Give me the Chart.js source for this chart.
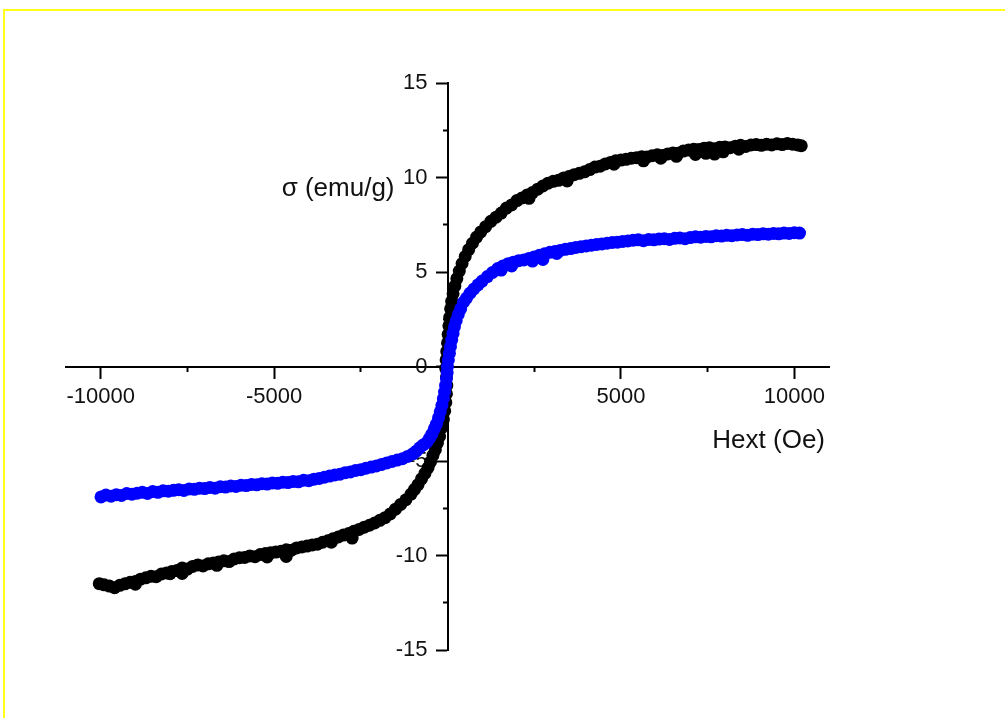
<!DOCTYPE html>
<html>
<head>
<meta charset="utf-8">
<title>Hysteresis</title>
<script src="https://cdn.jsdelivr.net/npm/chart.js@4.4.1/dist/chart.umd.min.js"></script>
<style>
  body { margin: 0; background: #fff; }
  #wrap { position: relative; width: 1005px; height: 718px; }
  #frame {
    position: absolute; left: 3px; top: 9px; right: 0; bottom: 0;
    border-top: 2px solid #ffff1a; border-left: 2px solid #ffff1a;
    pointer-events: none;
  }
</style>
</head>
<body>
<div id="wrap">
  <canvas id="loop" width="1005" height="718"></canvas>
  <div id="frame"></div>
</div>
<script>
// ---------- DATA ----------
// black sample: field (Oe) and magnetisation (emu/g)
const blackH = [
  -10040, -9900, -9750, -9600, -9450, -9300, -9150, -9000, -8850, -8700,
  -8550, -8400, -8250, -8100, -7950, -7800, -7650, -7500, -7350, -7200,
  -7050, -6900, -6750, -6600, -6450, -6300, -6150, -6000, -5850, -5700,
  -5550, -5400, -5250, -5100, -4950, -4800, -4650, -4500, -4350, -4200,
  -4050, -3900, -3750, -3600, -3450, -3300, -3150, -3000, -2850, -2700,
  -2550, -2400, -2250, -2100, -1950, -1800, -1650, -1500, -1350, -1200,
  -1050, -950, -850, -750, -650, -560, -490, -420, -350, -290,
  -230, -170, -120, -80, -50, -30, -20, -30, -50, -40,
  -20, 0, 20, 40, 65, 90, 120, 160, 210, 270,
  340, 420, 510, 610, 720, 840, 960, 1100, 1250, 1400,
  1550, 1700, 1850, 2000, 2150, 2300, 2450, 2600, 2750, 2900,
  3050, 3200, 3350, 3500, 3650, 3800, 3950, 4100, 4250, 4400,
  4550, 4700, 4850, 5000, 5150, 5300, 5450, 5600, 5750, 5900,
  6050, 6200, 6350, 6500, 6650, 6800, 6950, 7100, 7250, 7400,
  7550, 7700, 7850, 8000, 8150, 8300, 8450, 8600, 8750, 8900,
  9050, 9200, 9350, 9500, 9650, 9800, 9950, 10100, 10200,
  7150, 7450, 7700, 7950, 6150, 5650, 3450, 2350, -2750, -4650,
  -3350, -6650, -7650, -9000, -8000, -5200, 6600, 8400, 4800
];
const blackM = [
  -11.49, -11.55, -11.62, -11.70, -11.58, -11.50, -11.42, -11.38, -11.25, -11.18,
  -11.10, -11.12, -10.98, -10.92, -10.85, -10.80, -10.66, -10.72, -10.58, -10.50,
  -10.55, -10.44, -10.40, -10.35, -10.28, -10.32, -10.18, -10.12, -10.10, -10.02,
  -10.06, -9.95, -9.90, -9.86, -9.82, -9.78, -9.70, -9.72, -9.60, -9.55,
  -9.50, -9.44, -9.40, -9.30, -9.22, -9.12, -9.02, -8.92, -8.84, -8.72,
  -8.62, -8.50, -8.40, -8.28, -8.14, -8.00, -7.80, -7.55, -7.30, -7.05,
  -6.75, -6.50, -6.25, -5.95, -5.65, -5.35, -5.05, -4.70, -4.40, -4.05,
  -3.70, -3.25, -2.80, -2.35, -1.90, -1.45, -1.00, -0.55, -0.10, 0.35,
  0.80, 1.25, 1.70, 2.15, 2.60, 3.05, 3.45, 3.85, 4.25, 4.65,
  5.05, 5.45, 5.82, 6.18, 6.52, 6.85, 7.12, 7.40, 7.68, 7.90,
  8.12, 8.38, 8.55, 8.78, 8.92, 9.08, 9.20, 9.38, 9.55, 9.70,
  9.80, 9.85, 9.98, 10.05, 10.15, 10.22, 10.30, 10.42, 10.55, 10.60,
  10.72, 10.80, 10.88, 10.92, 10.96, 11.02, 11.05, 11.10, 11.08, 11.15,
  11.20, 11.16, 11.25, 11.30, 11.28, 11.40, 11.45, 11.50, 11.48, 11.55,
  11.58, 11.52, 11.60, 11.62, 11.58, 11.66, 11.70, 11.64, 11.72, 11.74,
  11.70, 11.76, 11.72, 11.78, 11.74, 11.80, 11.76, 11.72, 11.68,
  11.22, 11.28, 11.24, 11.36, 11.02, 10.88, 9.82, 8.90, -9.08, -10.05,
  -9.30, -10.52, -10.95, -11.52, -10.96, -10.08, 11.12, 11.50, 10.70
];

// blue sample
const blueH = [
  -9990, -9850, -9700, -9550, -9400, -9250, -9100, -8950, -8800, -8650,
  -8500, -8350, -8200, -8050, -7900, -7750, -7600, -7450, -7300, -7150,
  -7000, -6850, -6700, -6550, -6400, -6250, -6100, -5950, -5800, -5650,
  -5500, -5350, -5200, -5050, -4900, -4750, -4600, -4450, -4300, -4150,
  -4000, -3850, -3700, -3550, -3400, -3250, -3100, -2950, -2800, -2650,
  -2500, -2350, -2200, -2050, -1900, -1750, -1600, -1450, -1300, -1150,
  -1000, -900, -800, -700, -600, -520, -450, -380, -320, -260,
  -210, -160, -120, -85, -55, -30, -10, 0, 25, 55,
  85, 120, 160, 200, 250, 310, 380, 460, 550, 650,
  760, 880, 1000, 1150, 1300, 1450, 1600, 1750, 1900, 2050,
  2200, 2350, 2500, 2650, 2800, 2950, 3100, 3250, 3400, 3550,
  3700, 3850, 4000, 4150, 4300, 4450, 4600, 4750, 4900, 5050,
  5200, 5350, 5500, 5650, 5800, 5950, 6100, 6250, 6400, 6550,
  6700, 6850, 7000, 7150, 7300, 7450, 7600, 7750, 7900, 8050,
  8200, 8350, 8500, 8650, 8800, 8950, 9100, 9250, 9400, 9550,
  9700, 9850, 10000, 10150,
  2450, 2750, 1850, 1550, 3150
];
const blueM = [
  -6.90, -6.80, -6.86, -6.78, -6.82, -6.72, -6.76, -6.70, -6.66, -6.72,
  -6.62, -6.66, -6.58, -6.60, -6.55, -6.52, -6.56, -6.48, -6.50, -6.44,
  -6.46, -6.40, -6.44, -6.36, -6.38, -6.32, -6.35, -6.28, -6.30, -6.24,
  -6.26, -6.20, -6.22, -6.16, -6.18, -6.12, -6.14, -6.08, -6.10, -6.02,
  -6.04, -5.96, -5.92, -5.86, -5.80, -5.74, -5.70, -5.62, -5.58, -5.50,
  -5.46, -5.38, -5.32, -5.26, -5.18, -5.10, -5.02, -4.95, -4.88, -4.76,
  -4.62, -4.48, -4.30, -4.15, -4.02, -3.80, -3.58, -3.30, -3.05, -2.72,
  -2.40, -2.05, -1.70, -1.35, -1.00, -0.65, -0.32, 0.00, 0.35, 0.70,
  1.05, 1.40, 1.75, 2.10, 2.42, 2.75, 3.05, 3.40, 3.62, 3.88,
  4.10, 4.32, 4.52, 4.76, 4.98, 5.18, 5.32, 5.44, 5.52, 5.60,
  5.64, 5.72, 5.80, 5.88, 5.96, 6.04, 6.08, 6.14, 6.20, 6.24,
  6.30, 6.34, 6.38, 6.42, 6.46, 6.48, 6.52, 6.56, 6.58, 6.62,
  6.64, 6.68, 6.70, 6.66, 6.72, 6.70, 6.74, 6.76, 6.72, 6.78,
  6.80, 6.76, 6.82, 6.86, 6.84, 6.88, 6.86, 6.92, 6.90, 6.94,
  6.92, 6.96, 6.98, 6.94, 7.00, 6.98, 7.02, 7.00, 7.04, 7.02,
  7.06, 7.04, 7.08, 7.06,
  5.58, 5.66, 5.32, 5.10, 5.98
];

const xMajorTicks = [-10000, -5000, 0, 5000, 10000];
const xMinorTicks = [-7500, -2500, 2500, 7500];
const yMajorTicks = [-15, -10, -5, 0, 5, 10, 15];
const yMinorTicks = [-12.5, -7.5, -2.5, 2.5, 7.5, 12.5];

const xTitle = 'Hext (Oe)';
const yTitle = 'σ (emu/g)';

const toPoints = (hs, ms) => hs.map((h, i) => ({ x: h, y: ms[i] }));
const setTicks = list => scale => { scale.ticks = list.map(v => ({ value: v })); };

// ---------- PLUGINS ----------
// y labels of an axis placed at x=0 sit on the line itself, push them left of the ticks
const yLabelShift = {
  id: 'yLabelShift',
  beforeDraw(chart) {
    const scale = chart.scales.y;
    const items = scale.getLabelItems(chart.chartArea);
    items.forEach(item => {
      if (!item._shifted) {
        item.options.translation[0] -= 20;
        item._shifted = true;
      }
    });
  }
};

const axisTitles = {
  id: 'axisTitles',
  afterDraw(chart) {
    const { ctx, chartArea, scales } = chart;
    const x0 = scales.x.getPixelForValue(0);
    const y0 = scales.y.getPixelForValue(0);
    ctx.save();
    ctx.font = '26px "Liberation Sans", Arial, sans-serif';
    ctx.fillStyle = '#111';
    ctx.textAlign = 'right';
    ctx.textBaseline = 'alphabetic';
    ctx.fillText(yTitle, x0 - 53, y0 - 171);
    ctx.fillText(xTitle, chartArea.right - 4, y0 + 81);
    ctx.restore();
  }
};

// ---------- CHART ----------
const font = { family: '"Liberation Sans", Arial, sans-serif', size: 22 };

new Chart(document.getElementById('loop'), {
  type: 'scatter',
  data: {
    datasets: [
      {
        label: 'black',
        data: toPoints(blackH, blackM),
        backgroundColor: '#000',
        borderWidth: 0,
        pointRadius: 6.5,
        order: 2
      },
      {
        label: 'blue',
        data: toPoints(blueH, blueM),
        backgroundColor: '#0000ff',
        borderWidth: 0,
        pointRadius: 6.5,
        order: 1
      }
    ]
  },
  options: {
    responsive: false,
    animation: false,
    devicePixelRatio: 1,
    layout: { padding: { left: 66, right: 176, top: 83, bottom: 68 } },
    plugins: { legend: { display: false }, tooltip: { enabled: false } },
    clip: false,
    scales: {
      x: {
        type: 'linear',
        position: { y: 0 },
        min: -11000,
        max: 11000,
        afterBuildTicks: setTicks(xMajorTicks),
        border: { color: '#000', width: 2 },
        grid: { drawOnChartArea: false, tickLength: 11, tickWidth: 2, tickColor: '#000' },
        ticks: {
          autoSkip: false,
          font: font,
          color: '#111',
          padding: 6,
          callback: v => (v === 0 ? '' : String(v))
        }
      },
      xMinor: {
        type: 'linear',
        axis: 'x',
        position: { y: 0 },
        min: -11000,
        max: 11000,
        afterBuildTicks: setTicks(xMinorTicks),
        border: { display: false },
        grid: { drawOnChartArea: false, tickLength: 5, tickWidth: 2, tickColor: '#000' },
        ticks: { autoSkip: false, callback: () => '' }
      },
      y: {
        type: 'linear',
        position: { x: 0 },
        min: -15,
        max: 15,
        afterBuildTicks: setTicks(yMajorTicks),
        border: { color: '#000', width: 2 },
        grid: { drawOnChartArea: false, tickLength: 11, tickWidth: 2, tickColor: '#000' },
        ticks: {
          autoSkip: false,
          font: font,
          color: '#111',
          callback: v => String(v)
        }
      },
      yMinor: {
        type: 'linear',
        axis: 'y',
        position: { x: 0 },
        min: -15,
        max: 15,
        afterBuildTicks: setTicks(yMinorTicks),
        border: { display: false },
        grid: { drawOnChartArea: false, tickLength: 5, tickWidth: 2, tickColor: '#000' },
        ticks: { autoSkip: false, callback: () => '' }
      }
    }
  },
  plugins: [yLabelShift, axisTitles]
});
</script>
</body>
</html>
